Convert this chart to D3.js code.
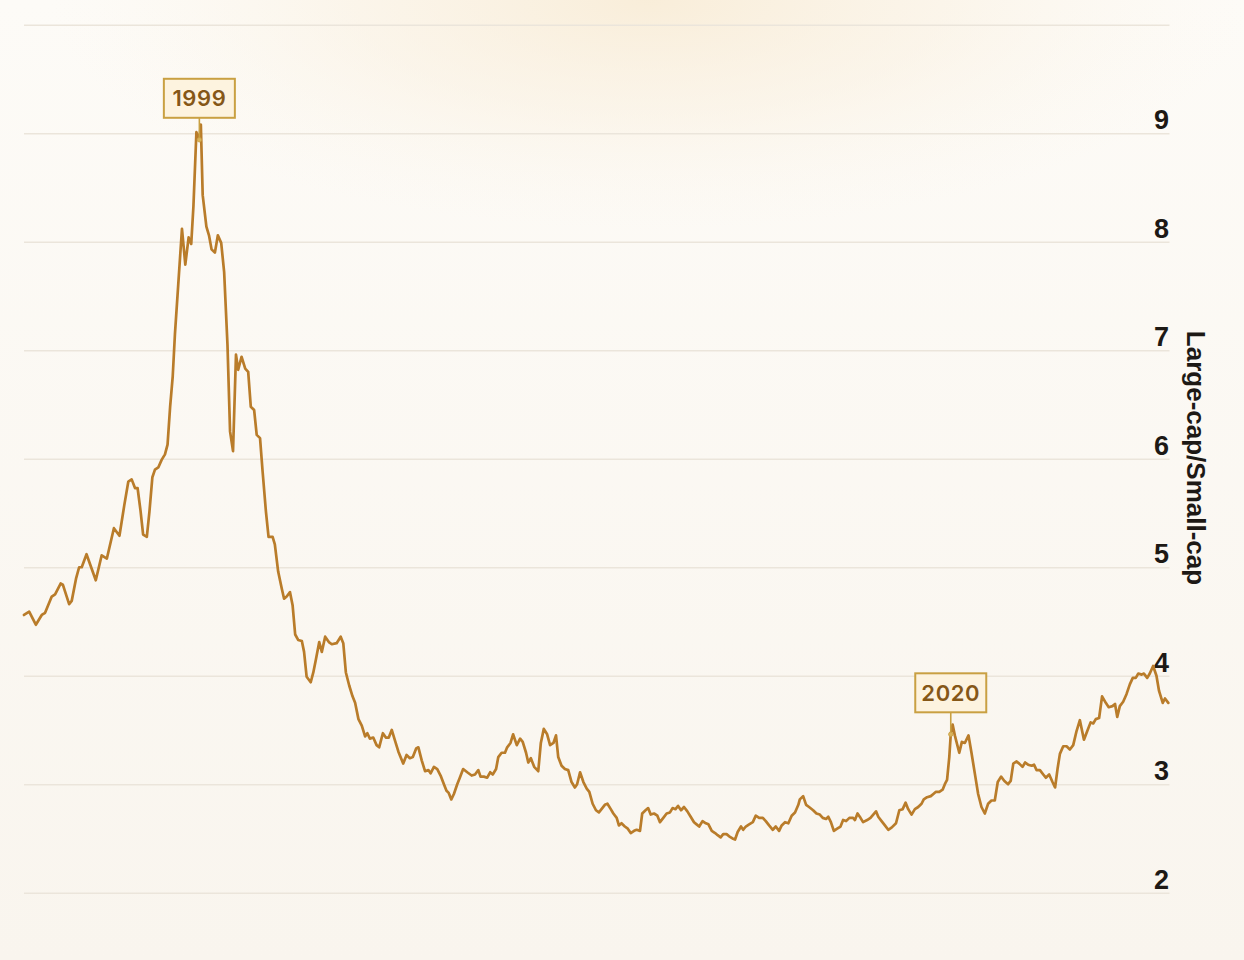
<!DOCTYPE html>
<html>
<head>
<meta charset="utf-8">
<script src="https://cdn.jsdelivr.net/npm/d3@7/dist/d3.min.js"></script>
<style>
  html, body { margin: 0; padding: 0; background: #fcfaf5; }
  svg { display: block; }
</style>
</head>
<body>
<svg id="chart" width="1244" height="960"></svg>
<script>
// ---- data (decimal year, large-cap / small-cap ratio) ----
const years = [
1995.17,1995.31,1995.49,1995.65,1995.74,1995.92,1996.01,1996.16,1996.22,1996.39,1996.46,1996.58,1996.66,1996.73,1996.86,
1997.11,1997.27,1997.41,1997.60,1997.75,1997.88,1997.99,1998.08,1998.17,1998.24,1998.32,1998.39,1998.49,1998.56,1998.64,
1998.71,1998.80,1998.89,1998.98,1999.05,1999.12,1999.19,1999.25,1999.34,1999.44,1999.53,1999.62,1999.69,1999.75,1999.83,
1999.91,1999.95,2000.00,2000.10,2000.17,2000.24,2000.33,2000.41,2000.50,2000.58,2000.67,2000.74,2000.82,2000.90,2000.96,
2001.05,2001.15,2001.23,2001.30,2001.39,2001.46,2001.55,2001.62,2001.71,2001.78,2001.89,2001.95,2002.04,2002.14,2002.20,
2002.27,2002.36,2002.43,2002.50,2002.58,2002.68,2002.74,2002.81,2002.92,2002.99,2003.06,2003.15,2003.22,2003.31,2003.41,
2003.49,2003.62,2003.73,2003.80,2003.87,2003.96,2004.05,2004.12,2004.21,2004.30,2004.39,2004.45,2004.52,2004.61,2004.70,
2004.77,2004.87,2004.95,2005.03,2005.11,2005.20,2005.29,2005.42,2005.51,2005.60,2005.68,2005.77,2005.83,2005.92,2006.01,
2006.10,2006.16,2006.25,2006.34,2006.43,2006.52,2006.59,2006.65,2006.72,2006.79,2006.88,2006.95,2007.04,2007.15,2007.27,
2007.36,2007.45,2007.51,2007.60,2007.69,2007.77,2007.84,2007.93,2007.99,2008.08,2008.17,2008.23,2008.32,2008.39,2008.49,
2008.58,2008.65,2008.74,2008.80,2008.87,2008.96,2009.07,2009.14,2009.22,2009.31,2009.39,2009.48,2009.55,2009.61,2009.70,
2009.79,2009.88,2009.97,2010.06,2010.12,2010.20,2010.29,2010.38,2010.45,2010.54,2010.63,2010.71,2010.78,2010.87,2010.94,
2011.03,2011.10,2011.19,2011.25,2011.32,2011.41,2011.49,2011.57,2011.66,2011.73,2011.82,2011.88,2011.97,2012.04,2012.11,
2012.20,2012.29,2012.36,2012.45,2012.54,2012.63,2012.70,2012.78,2012.85,2012.93,2013.01,2013.10,2013.19,2013.28,2013.35,
2013.42,2013.51,2013.60,2013.67,2013.76,2013.85,2013.92,2014.00,2014.07,2014.16,2014.23,2014.32,2014.39,2014.46,2014.55,
2014.61,2014.68,2014.77,2014.87,2014.95,2015.04,2015.14,2015.22,2015.31,2015.41,2015.49,2015.58,2015.65,2015.74,2015.83,
2015.92,2016.01,2016.10,2016.14,2016.23,2016.31,2016.39,2016.50,2016.59,2016.68,2016.76,2016.85,2016.91,2016.98,2017.06,
2017.15,2017.24,2017.31,2017.39,2017.48,2017.58,2017.63,2017.70,2017.78,2017.85,2017.96,2018.05,2018.20,2018.26,2018.35,
2018.44,2018.53,2018.62,2018.74,2018.83,2018.92,2019.00,2019.07,2019.16,2019.25,2019.34,2019.43,2019.49,2019.58,2019.68,
2019.75,2019.82,2019.91,2020.00,2020.06,2020.12,2020.18,2020.22,2020.27,2020.33,2020.45,2020.52,2020.60,2020.70,2020.78,
2020.87,2020.96,2021.05,2021.14,2021.23,2021.32,2021.41,2021.49,2021.58,2021.67,2021.77,2021.84,2021.91,2022.00,2022.07,
2022.16,2022.23,2022.31,2022.41,2022.47,2022.54,2022.63,2022.72,2022.79,2022.88,2022.97,2023.04,2023.11,2023.17,2023.26,
2023.35,2023.44,2023.53,2023.62,2023.71,2023.82,2023.91,2024.00,2024.07,2024.14,2024.23,2024.31,2024.41,2024.49,2024.59,
2024.66,2024.72,2024.79,2024.88,2024.97,2025.06,2025.14,2025.22,2025.29,2025.38,2025.44,2025.53,2025.60,2025.69,2025.78,
2025.85,2025.95,2026.01,2026.10
];
const ratio = [
4.56,4.59,4.47,4.56,4.58,4.73,4.75,4.85,4.84,4.66,4.69,4.90,5.00,5.00,5.12,
4.88,5.11,5.08,5.36,5.29,5.57,5.79,5.81,5.73,5.73,5.52,5.30,5.28,5.51,5.83,
5.90,5.92,5.99,6.04,6.13,6.48,6.76,7.15,7.61,8.12,7.79,8.04,7.98,8.33,9.01,
8.94,9.08,8.43,8.14,8.06,7.93,7.90,8.06,7.99,7.72,7.05,6.25,6.07,6.96,6.82,
6.94,6.83,6.80,6.48,6.45,6.22,6.19,5.88,5.51,5.28,5.28,5.21,4.96,4.80,4.71,
4.73,4.77,4.65,4.38,4.33,4.32,4.22,3.99,3.94,4.03,4.15,4.31,4.22,4.36,4.31,
4.29,4.30,4.36,4.30,4.03,3.91,3.81,3.75,3.60,3.54,3.44,3.47,3.42,3.43,3.36,
3.34,3.47,3.43,3.43,3.50,3.40,3.30,3.19,3.27,3.24,3.25,3.33,3.34,3.22,3.12,
3.13,3.10,3.16,3.14,3.08,3.00,2.94,2.92,2.86,2.91,3.00,3.06,3.14,3.11,3.08,
3.09,3.13,3.07,3.07,3.06,3.11,3.09,3.14,3.25,3.29,3.29,3.34,3.38,3.46,3.36,
3.42,3.39,3.29,3.20,3.24,3.16,3.12,3.38,3.51,3.46,3.36,3.38,3.45,3.25,3.17,
3.14,3.13,3.02,2.97,3.00,3.11,3.02,2.96,2.93,2.82,2.76,2.74,2.77,2.81,2.82,
2.77,2.73,2.69,2.62,2.64,2.61,2.59,2.55,2.57,2.58,2.57,2.73,2.76,2.78,2.72,
2.73,2.71,2.65,2.69,2.73,2.74,2.78,2.77,2.80,2.76,2.79,2.75,2.70,2.65,2.63,
2.61,2.66,2.64,2.63,2.57,2.55,2.53,2.51,2.54,2.54,2.52,2.50,2.49,2.56,2.61,
2.58,2.61,2.63,2.65,2.71,2.69,2.69,2.66,2.62,2.58,2.61,2.57,2.62,2.65,2.64,
2.71,2.74,2.81,2.86,2.89,2.81,2.79,2.76,2.73,2.72,2.69,2.68,2.70,2.65,2.57,
2.59,2.61,2.67,2.66,2.69,2.69,2.67,2.73,2.69,2.65,2.67,2.69,2.75,2.70,2.66,
2.62,2.58,2.60,2.64,2.76,2.77,2.83,2.77,2.72,2.77,2.79,2.82,2.86,2.88,2.89,
2.91,2.93,2.93,2.95,3.00,3.04,3.25,3.46,3.55,3.45,3.29,3.39,3.38,3.45,3.29,
3.10,2.91,2.79,2.73,2.82,2.85,2.85,3.02,3.07,3.03,3.00,3.03,3.19,3.21,3.19,
3.16,3.20,3.18,3.17,3.18,3.13,3.13,3.09,3.06,3.09,3.02,2.97,3.15,3.28,3.35,
3.35,3.32,3.36,3.49,3.59,3.41,3.49,3.57,3.56,3.60,3.61,3.81,3.75,3.71,3.72,
3.74,3.62,3.72,3.76,3.83,3.92,3.98,3.98,4.02,4.01,4.02,3.98,4.02,4.09,4.00,
3.86,3.75,3.79,3.75
];
const yTicks = [2, 3, 4, 5, 6, 7, 8, 9, 10];
const yTickLabels = ["2", "3", "4", "5", "6", "7", "8", "9", ""];
const annoYears = [1999.91, 2020.22];
const annoValues = [8.94, 3.46];
const annoLabels = ["1999", "2020"];
const axisTitle = "Large-cap/Small-cap";

// ---- layout ----
const W = 1244, H = 960;
const left = 24, right = 1169.5;
const svg = d3.select("#chart");

const defs = svg.append("defs");
const bg = defs.append("linearGradient").attr("id", "bg").attr("x1", 0).attr("y1", 0).attr("x2", 0).attr("y2", 1);
bg.append("stop").attr("offset", "0%").attr("stop-color", "#fdfbf7");
bg.append("stop").attr("offset", "100%").attr("stop-color", "#f9f5ee");
const glow = defs.append("radialGradient").attr("id", "glow")
  .attr("cx", 0.5).attr("cy", 0.5).attr("r", 0.5);
glow.append("stop").attr("offset", "0%").attr("stop-color", "#f8ebd4").attr("stop-opacity", 0.85);
glow.append("stop").attr("offset", "50%").attr("stop-color", "#f9eedb").attr("stop-opacity", 0.45);
glow.append("stop").attr("offset", "100%").attr("stop-color", "#fbf5ea").attr("stop-opacity", 0);

svg.append("rect").attr("width", W).attr("height", H).attr("fill", "url(#bg)");
svg.append("ellipse").attr("cx", 650).attr("cy", 0).attr("rx", 600).attr("ry", 230).attr("fill", "url(#glow)");

const x = d3.scaleLinear().domain(d3.extent(years)).range([24, 1168.3]);
const y = d3.scaleLinear().domain([2, 10]).range([892.7, 24.8]);

// gridlines + tick labels via d3 axis
const yAxis = d3.axisLeft(y).tickValues(yTicks).tickSize(right - left)
  .tickFormat((d, i) => yTickLabels[i]);
const gAxis = svg.append("g").attr("transform", `translate(${right},0)`).call(yAxis);
gAxis.select(".domain").remove();
gAxis.selectAll(".tick line").attr("stroke", "#ebe5db").attr("stroke-width", 1.6);
gAxis.selectAll(".tick text")
  .attr("x", -0.5).attr("dy", null).attr("y", -4.5)
  .attr("text-anchor", "end")
  .attr("fill", "#1d1915")
  .style("font-family", "'Liberation Sans', Arial, Helvetica, sans-serif")
  .style("font-size", "27px").style("font-weight", "700");

// axis title
svg.append("text")
  .attr("transform", `translate(1196,458) rotate(90)`)
  .attr("text-anchor", "middle").attr("dy", "0.35em")
  .attr("fill", "#1d1915")
  .style("font-family", "'Liberation Sans', Arial, Helvetica, sans-serif")
  .style("font-size", "26px").style("font-weight", "700")
  .text(axisTitle);

// line
const pts = years.map((t, i) => [t, ratio[i]]);
const line = d3.line().x(d => x(d[0])).y(d => y(d[1])).curve(d3.curveLinear);
svg.append("path").datum(pts)
  .attr("fill", "none").attr("stroke", "#b97c2a").attr("stroke-width", 2.7)
  .attr("stroke-linejoin", "round").attr("stroke-linecap", "round")
  .attr("d", line);

// annotations
const boxW = 71, boxH = 39, gap = 22;
annoLabels.forEach((lab, i) => {
  const px = x(annoYears[i]), py = y(annoValues[i]);
  const g = svg.append("g");
  g.append("line").attr("x1", px).attr("x2", px).attr("y1", py - gap).attr("y2", py)
    .attr("stroke", "#c9a042").attr("stroke-width", 1.6);
  g.append("circle").attr("cx", px).attr("cy", py).attr("r", 2.2)
    .attr("fill", "#d9b45c").attr("stroke", "#c9a042").attr("stroke-width", 0.8);
  g.append("rect").attr("x", px - boxW / 2).attr("y", py - gap - boxH)
    .attr("width", boxW).attr("height", boxH)
    .attr("fill", "#fdf3df").attr("stroke", "#c9a042").attr("stroke-width", 2);
  g.append("text").attr("x", px).attr("y", py - gap - boxH / 2)
    .attr("dy", "0.36em").attr("text-anchor", "middle")
    .attr("fill", "#855717")
    .style("font-family", "Inter, 'Noto Sans', sans-serif")
    .style("font-size", "22px").style("font-weight", "600").style("letter-spacing", "0.6px")
    .text(lab);
});
</script>
</body>
</html>
